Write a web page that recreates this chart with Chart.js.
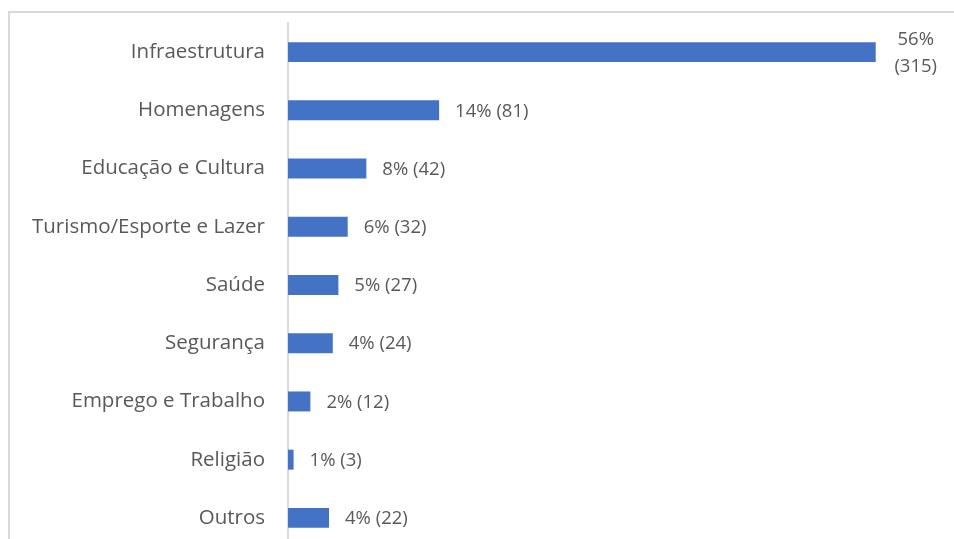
<!DOCTYPE html>
<html>
<head>
<meta charset="utf-8">
<script src="https://cdn.jsdelivr.net/npm/chart.js@4"></script>
<style>
  html, body { margin: 0; padding: 0; background: #fff; overflow: hidden; }
  #frame {
    position: absolute; left: 8px; top: 11px; width: 980px; height: 560px;
    border: 2px solid #d9d9d9; box-sizing: border-box;
  }
  #wrap { position: absolute; left: 0; top: 0; width: 954px; height: 547px; }
</style>
</head>
<body>
<div id="frame"></div>
<div id="wrap"><canvas id="chart"></canvas></div>
<script>
const categories = ['Infraestrutura', 'Homenagens', 'Educação e Cultura', 'Turismo/Esporte e Lazer',
  'Saúde', 'Segurança', 'Emprego e Trabalho', 'Religião', 'Outros'];
const counts = [315, 81, 42, 32, 27, 24, 12, 3, 22];
const percents = ['56%', '14%', '8%', '6%', '5%', '4%', '2%', '1%', '4%'];

const FONT = "'Open Sans', 'Liberation Sans', sans-serif";

// value labels drawn after each bar end
const valueLabels = {
  id: 'valueLabels',
  afterDatasetsDraw(chart) {
    const ctx = chart.ctx;
    const meta = chart.getDatasetMeta(0);
    ctx.save();
    ctx.fillStyle = '#595959';
    ctx.font = '18.5px ' + FONT;
    ctx.textBaseline = 'middle';
    meta.data.forEach(function (bar, i) {
      if (i === 0) {
        // wraps onto two lines like the original
        ctx.textAlign = 'center';
        ctx.fillText(percents[i], bar.x + 40, bar.y - 12);
        ctx.fillText('(' + counts[i] + ')', bar.x + 40, bar.y + 15);
      } else {
        ctx.textAlign = 'left';
        ctx.fillText(percents[i] + ' (' + counts[i] + ')', bar.x + 16, bar.y + 1);
      }
    });
    ctx.restore();
  }
};

new Chart(document.getElementById('chart').getContext('2d'), {
  type: 'bar',
  data: {
    labels: categories,
    datasets: [{
      data: counts,
      backgroundColor: '#4472C4',
      borderWidth: 0,
      barPercentage: 0.7,
      categoryPercentage: 0.49
    }]
  },
  plugins: [valueLabels],
  options: {
    indexAxis: 'y',
    responsive: true,
    maintainAspectRatio: false,
    animation: false,
    layout: { padding: { top: 23, right: 13, bottom: 0, left: 0 } },
    plugins: { legend: { display: false }, tooltip: { enabled: false } },
    scales: {
      x: {
        min: 0, max: 350,
        display: false
      },
      y: {
        afterFit(scale) {
          scale.width = 288;
          scale.paddingTop = 0;
          scale.paddingBottom = 0;
        },
        grid: { display: false, drawTicks: false },
        border: { display: true, color: '#d9d9d9', width: 2 },
        ticks: { color: '#595959', padding: 23, font: { family: FONT, size: 20.5 } }
      }
    }
  }
});
</script>
</body>
</html>
